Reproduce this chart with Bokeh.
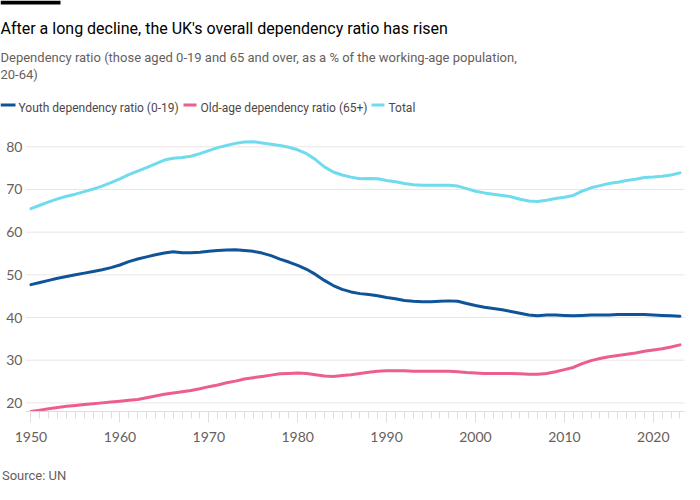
from bokeh.plotting import figure
from bokeh.models import Label, BoxAnnotation, FixedTicker, Range1d
from bokeh.embed import file_html
from bokeh.resources import INLINE

years = list(range(1950, 2024))

youth = [47.7, 48.2, 48.7, 49.2, 49.6, 50.0, 50.4, 50.8, 51.2, 51.7,
         52.3, 53.1, 53.7, 54.2, 54.7, 55.1, 55.4, 55.2, 55.2, 55.3,
         55.5, 55.7, 55.8, 55.9, 55.7, 55.5, 55.1, 54.5, 53.7, 53.0,
         52.2, 51.3, 50.1, 48.7, 47.5, 46.6, 46.0, 45.6, 45.4, 45.1,
         44.7, 44.4, 44.0, 43.8, 43.7, 43.7, 43.8, 43.9, 43.8, 43.3,
         42.8, 42.4, 42.1, 41.8, 41.4, 41.0, 40.6, 40.4, 40.6, 40.6,
         40.5, 40.4, 40.5, 40.6, 40.6, 40.6, 40.7, 40.7, 40.7, 40.7,
         40.6, 40.5, 40.4, 40.3]

old_age = [18.0, 18.3, 18.6, 18.9, 19.2, 19.4, 19.6, 19.8, 20.0, 20.2,
           20.4, 20.6, 20.8, 21.2, 21.6, 22.0, 22.3, 22.6, 22.9, 23.3,
           23.8, 24.2, 24.7, 25.1, 25.6, 25.9, 26.2, 26.5, 26.8, 26.9,
           27.0, 26.9, 26.6, 26.3, 26.2, 26.4, 26.6, 26.9, 27.2, 27.4,
           27.5, 27.5, 27.5, 27.4, 27.4, 27.4, 27.4, 27.4, 27.3, 27.1,
           27.0, 26.9, 26.9, 26.9, 26.9, 26.8, 26.7, 26.7, 26.9, 27.3,
           27.8, 28.3, 29.2, 29.9, 30.4, 30.8, 31.1, 31.4, 31.7, 32.1,
           32.4, 32.7, 33.1, 33.6]

total = [65.5, 66.3, 67.1, 67.8, 68.4, 68.9, 69.5, 70.1, 70.8, 71.6,
         72.5, 73.5, 74.3, 75.1, 76.0, 76.9, 77.3, 77.5, 77.8, 78.4,
         79.1, 79.8, 80.3, 80.8, 81.1, 81.2, 80.9, 80.6, 80.3, 79.9,
         79.3, 78.4, 77.0, 75.3, 74.1, 73.4, 72.9, 72.5, 72.6, 72.5,
         72.1, 71.8, 71.4, 71.1, 71.0, 71.0, 71.0, 71.0, 70.8, 70.2,
         69.6, 69.2, 68.9, 68.6, 68.3, 67.7, 67.3, 67.2, 67.5, 67.9,
         68.2, 68.6, 69.6, 70.4, 70.9, 71.4, 71.7, 72.1, 72.4, 72.8,
         72.9, 73.1, 73.4, 73.9]

series_names = ["Youth dependency ratio (0-19)", "Old-age dependency ratio (65+)", "Total"]
series_colors = ["#0f5499", "#eb5e8d", "#70dbed"]
y_ticks = [20, 30, 40, 50, 60, 70, 80]
y_tick_labels = ["20", "30", "40", "50", "60", "70", "80"]
x_ticks = [1950, 1960, 1970, 1980, 1990, 2000, 2010, 2020]

title_text = "After a long decline, the UK's overall dependency ratio has risen"
subtitle_1 = "Dependency ratio (those aged 0-19 and 65 and over, as a % of the working-age population,"
subtitle_2 = "20-64)"
source_text = "Source: UN"

W, H = 696, 490
FRAME_BOTTOM = 411
FONT = "Roboto"
TICKFONT = "Lato"

# data region spans 1949.38..2023.51; frame widened left for y labels, taller for headings
X0, X1 = 1946.57, 2024.86
Y0, Y1 = 17.98, 114.28
GRID_X0, GRID_X1 = 1949.38, 2023.51
YLAB_X = 1949.04

p = figure(width=W, height=H, output_backend="svg", toolbar_location=None,
           x_range=Range1d(X0, X1), y_range=Range1d(Y0, Y1),
           min_border_left=0, min_border_right=0, min_border_top=0,
           min_border_bottom=H - FRAME_BOTTOM)
p.outline_line_color = None
p.background_fill_color = "white"
p.border_fill_color = "white"

p.segment(x0=[GRID_X0] * len(y_ticks), x1=[GRID_X1] * len(y_ticks), y0=y_ticks, y1=y_ticks,
          line_color="#ebe6e1", line_width=1)
p.text(x=[YLAB_X] * len(y_ticks), y=y_ticks, text=y_tick_labels, text_align="right",
       text_baseline="middle", text_font_size="14px", text_color="#66605c",
       text_font={"value": TICKFONT})

for vals, col in [(total, series_colors[2]), (youth, series_colors[0]), (old_age, series_colors[1])]:
    p.line(years, vals, line_color=col, line_width=3, line_join="round", line_cap="round")

p.yaxis.visible = False
p.xgrid.grid_line_color = None
p.ygrid.grid_line_color = None

p.xaxis.ticker = FixedTicker(ticks=x_ticks, minor_ticks=years)
p.xaxis.bounds = (GRID_X0, GRID_X1)
p.xaxis.axis_line_color = "#e3dcd5"
p.xaxis.major_tick_line_color = "#e3dcd5"
p.xaxis.minor_tick_line_color = "#e3dcd5"
p.xaxis.major_tick_out = 11
p.xaxis.major_tick_in = 0
p.xaxis.minor_tick_out = 7
p.xaxis.minor_tick_in = 0
p.xaxis.major_label_standoff = 9
p.xaxis.major_label_text_font = TICKFONT
p.xaxis.major_label_text_font_size = "14px"
p.xaxis.major_label_text_color = "#66605c"
# the source line sits under the x axis as its label; the label is centred on the
# frame, so trailing no-break spaces push its visible text to the left edge
p.xaxis.axis_label = source_text + "\u00a0" * 195
p.xaxis.axis_label_standoff = 23
p.xaxis.axis_label_text_font = FONT
p.xaxis.axis_label_text_font_size = "13px"
p.xaxis.axis_label_text_font_style = "normal"
p.xaxis.axis_label_text_color = "#66605c"

# screen units are relative to the frame: origin at its bottom-left, y upward
def sy(page_y):
    return FRAME_BOTTOM - page_y

def sx(page_x):
    return page_x

def add_text(txt, px, py, size, color):
    p.add_layout(Label(x=sx(px), y=sy(py), x_units="screen", y_units="screen",
                       text=txt, text_font=FONT, text_font_size=size,
                       text_color=color, text_baseline="alphabetic",
                       text_align="left"))

def add_box(x0, x1, y0, y1, color):
    p.add_layout(BoxAnnotation(left=sx(x0), right=sx(x1), top=sy(y0), bottom=sy(y1),
                               left_units="screen", right_units="screen",
                               top_units="screen", bottom_units="screen",
                               fill_color=color, fill_alpha=1, line_color=None,
                               level="overlay"))

add_box(0, 60, 0, 4, "#000000")
add_text(title_text, 0, 27.5, "16px", "#000000")
add_text(subtitle_1, 0, 57, "13px", "#66605c")
add_text(subtitle_2, 0, 74, "13px", "#66605c")

legend_x = [(0, 15, 18), (183, 196, 200), (371, 384, 388)]
for (lx0, lx1, tx), name, col in zip(legend_x, series_names, series_colors):
    add_box(lx0, lx1, 103, 106, col)
    add_text(name, tx, 107.5, "12px", "#4d4845")

open("out.html", "w").write(file_html(p, INLINE))
